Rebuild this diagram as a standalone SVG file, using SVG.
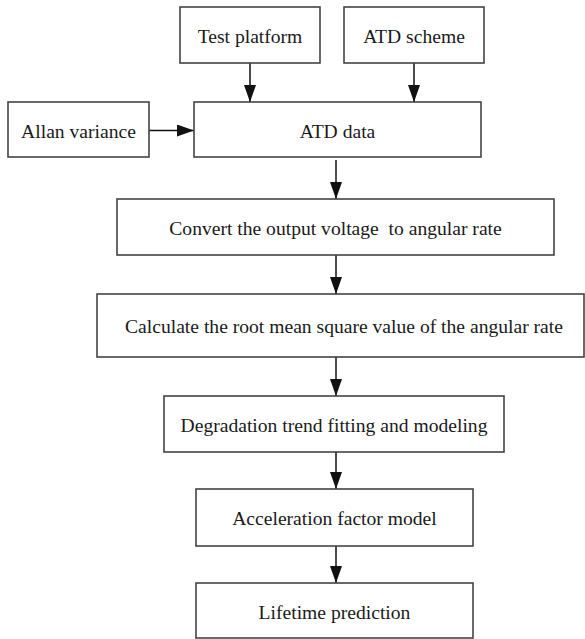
<svg xmlns="http://www.w3.org/2000/svg" width="585" height="639" viewBox="0 0 585 639">
<style>
  .box { fill: #ffffff; stroke: #444444; stroke-width: 1.6; }
  .lbl { font-family: "Liberation Serif", "Times New Roman", serif; font-size: 19.6px; fill: #1a1a1a; text-anchor: middle; }
  .edge { stroke: #111111; stroke-width: 1.5; fill: none; marker-end: url(#arr); }
</style>
<defs>
  <marker id="arr" markerUnits="userSpaceOnUse" markerWidth="17" markerHeight="12" refX="17" refY="6" orient="auto">
    <path d="M0,0 L17,6 L0,12 Z" fill="#111111"/>
  </marker>
</defs>
<rect width="585" height="639" fill="#ffffff"/>
<g id="connectors">
  <line class="edge" x1="250" y1="63" x2="250" y2="102"/>
  <line class="edge" x1="414" y1="63" x2="414" y2="102"/>
  <line class="edge" x1="149" y1="130.5" x2="194" y2="130.5"/>
  <line class="edge" x1="336" y1="160" x2="336" y2="199"/>
  <line class="edge" x1="336" y1="255" x2="336" y2="294"/>
  <line class="edge" x1="336" y1="357" x2="336" y2="396"/>
  <line class="edge" x1="336" y1="452" x2="336" y2="489"/>
  <line class="edge" x1="336" y1="546" x2="336" y2="583"/>
</g>
<g id="test-platform">
  <rect class="box" x="180" y="7" width="140" height="56"/>
  <text class="lbl" x="250" y="42.5">Test platform</text>
</g>
<g id="atd-scheme">
  <rect class="box" x="344" y="7" width="140" height="56"/>
  <text class="lbl" x="414" y="42.5">ATD scheme</text>
</g>
<g id="allan-variance">
  <rect class="box" x="8" y="102" width="141" height="55"/>
  <text class="lbl" x="78.5" y="137.5">Allan variance</text>
</g>
<g id="atd-data">
  <rect class="box" x="194" y="102" width="287" height="55"/>
  <text class="lbl" x="337.5" y="137.5">ATD data</text>
</g>
<g id="convert">
  <rect class="box" x="117" y="199" width="437" height="56"/>
  <text class="lbl" x="335.5" y="234.5" xml:space="preserve">Convert the output voltage  to angular rate</text>
</g>
<g id="calculate">
  <rect class="box" x="97" y="294" width="487" height="63"/>
  <text class="lbl" x="344" y="333">Calculate the root mean square value of the angular rate</text>
</g>
<g id="degradation">
  <rect class="box" x="164" y="396" width="340" height="56"/>
  <text class="lbl" x="334" y="431.5">Degradation trend fitting and modeling</text>
</g>
<g id="acceleration">
  <rect class="box" x="196" y="489" width="277" height="57"/>
  <text class="lbl" x="334.5" y="525">Acceleration factor model</text>
</g>
<g id="lifetime">
  <rect class="box" x="196" y="583" width="277" height="55"/>
  <text class="lbl" x="334.5" y="618.5">Lifetime prediction</text>
</g>
</svg>
